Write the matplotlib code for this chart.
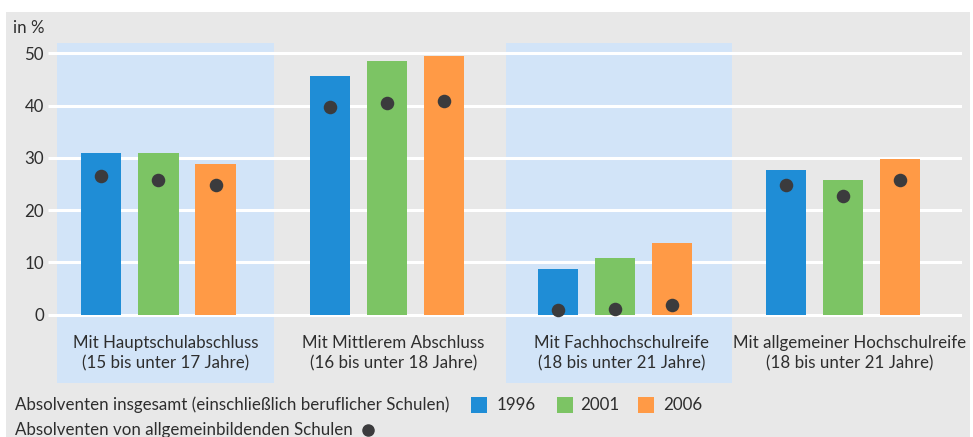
import numpy as np
import matplotlib.pyplot as plt
from matplotlib.patches import Rectangle

plt.rcParams['font.family'] = ['Lato', 'DejaVu Sans']

# data
groups = ['Mit Hauptschulabschluss\n(15 bis unter 17 Jahre)',
          'Mit Mittlerem Abschluss\n(16 bis unter 18 Jahre)',
          'Mit Fachhochschulreife\n(18 bis unter 21 Jahre)',
          'Mit allgemeiner Hochschulreife\n(18 bis unter 21 Jahre)']
years = ['1996', '2001', '2006']
total_1996 = [30.9, 45.7, 8.8, 27.7]
total_2001 = [30.9, 48.6, 10.8, 25.8]
total_2006 = [28.8, 49.6, 13.8, 29.7]
general_1996 = [26.6, 39.8, 0.8, 24.9]
general_2001 = [25.7, 40.6, 1.0, 22.7]
general_2006 = [24.9, 40.9, 1.8, 25.8]
yticks = [0, 10, 20, 30, 40, 50]

colors = ['#1f8dd6', '#7cc464', '#ff9a46']
dot_color = '#3b3b3d'
panel_color = '#d2e4f8'
bg_color = '#e8e8e8'
text_color = '#2e2e2e'
fs = 12.2

W, H = 973, 437
fig = plt.figure(figsize=(W / 100, H / 100), dpi=100)
fig.patch.set_facecolor('white')
fig.add_artist(Rectangle((6 / W, 0), 964 / W, (H - 12) / H, transform=fig.transFigure,
                         facecolor=bg_color, edgecolor='none', zorder=0))

ax = fig.add_axes([48 / W, (H - 383) / H, (962 - 48) / W, (383 - 43) / H])
ax.set_facecolor('none')
ax.set_xlim(-0.484, 3.521)
ax.set_ylim(-13.1, 52.0)

x = np.arange(len(groups))
offset = 0.25
width = 0.176

# shaded panels behind groups 1 and 3
for i, left, right in [(0, -0.445, 0.506), (2, -0.478, 0.511)]:
    ax.add_patch(Rectangle((i + left, -13.1), right - left, 65.1, facecolor=panel_color,
                           edgecolor='none', zorder=1))

for t in yticks:
    ax.plot([-0.484, 3.521], [t, t], color='white', lw=2.2, zorder=2, solid_capstyle='butt')

totals = [total_1996, total_2001, total_2006]
generals = [general_1996, general_2001, general_2006]
for k in range(3):
    ax.bar(x + (k - 1) * offset, totals[k], width, color=colors[k], zorder=3)
    ax.scatter(x + (k - 1) * offset, generals[k], s=95, color=dot_color, zorder=4,
               linewidths=0)

for i, g in enumerate(groups):
    ax.text(i + 0.03, -7.4, g, ha='center', va='center', fontsize=fs,
            color=text_color, linespacing=1.3, zorder=5)

ax.set_yticks(yticks)
ax.set_yticklabels([str(t) for t in yticks], fontsize=fs, color=text_color)
ax.tick_params(axis='y', length=0, pad=3)
ax.set_xticks([])
for s in ax.spines.values():
    s.set_visible(False)

fig.text(13 / W, 1 - 28 / H, 'in %', fontsize=fs, color=text_color, va='center')

# legend
ly1 = 1 - 405 / H
ly2 = 1 - 430 / H
fig.text(15 / W, ly1, 'Absolventen insgesamt (einschließlich beruflicher Schulen)',
         fontsize=fs, color=text_color, va='center')
for k, (sx, tx) in enumerate([(471, 497), (557, 580), (638, 663)]):
    fig.add_artist(Rectangle((sx / W, ly1 - 8 / H), 16 / W, 16 / H, transform=fig.transFigure,
                             facecolor=colors[k], edgecolor='none'))
    fig.text(tx / W, ly1, years[k], fontsize=fs, color=text_color, va='center')
fig.text(15 / W, ly2, 'Absolventen von allgemeinbildenden Schulen',
         fontsize=fs, color=text_color, va='center')
fig.add_artist(plt.Line2D([368 / W], [ly2], marker='o', markersize=8, color=dot_color,
                          transform=fig.transFigure, linestyle='none'))

fig.savefig('out.png', dpi=100)
